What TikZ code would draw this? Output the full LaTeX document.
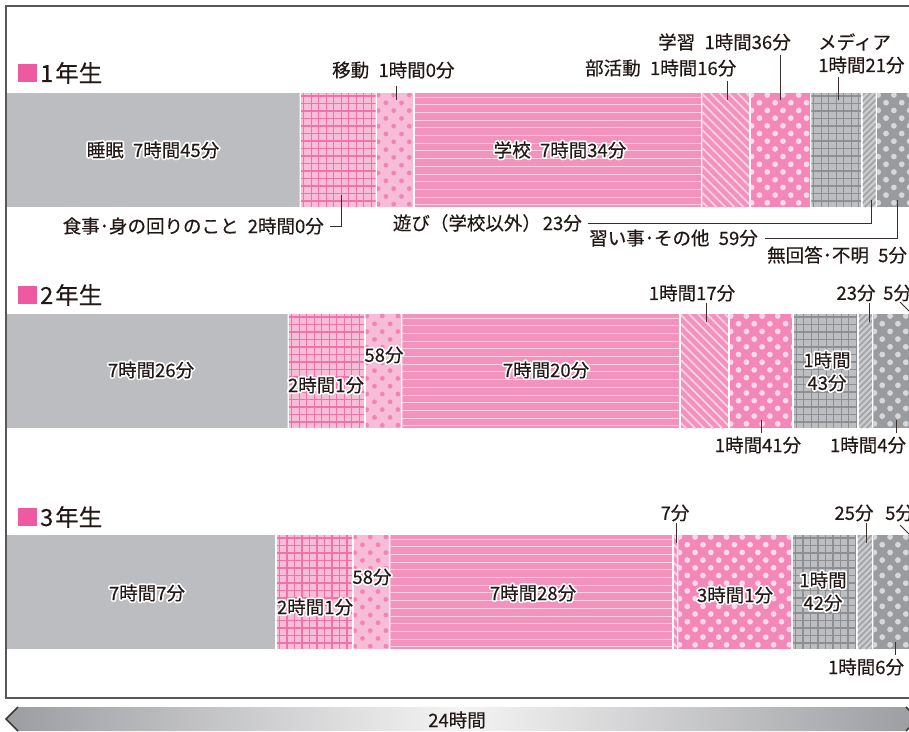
\documentclass[tikz,border=0pt]{standalone}
\usepackage{fontspec}
\setmainfont{Noto Sans CJK JP}[FakeBold=0.35]
\usetikzlibrary{calc}
\definecolor{cText}{HTML}{231815}
\definecolor{cFrame}{HTML}{595757}
\definecolor{cSleep}{HTML}{BCBDC0}
\definecolor{cPinkL}{HTML}{F7BDD6}
\definecolor{cPinkG}{HTML}{F172AB}
\definecolor{cMoveDot}{HTML}{F184B6}
\definecolor{cSchool}{HTML}{F292BD}
\definecolor{cSchoolLn}{HTML}{FAD0E2}
\definecolor{cStudy}{HTML}{F287B8}
\definecolor{cStudyDot}{HTML}{FCD8E8}
\definecolor{cMedia}{HTML}{BDBEC1}
\definecolor{cMediaLn}{HTML}{8E8F93}
\definecolor{cPlay}{HTML}{CBCCCE}
\definecolor{cPlayLn}{HTML}{A3A4A7}
\definecolor{cLesson}{HTML}{9A9B9E}
\definecolor{cLessonDot}{HTML}{D6D7D9}
\definecolor{cTitle}{HTML}{EE5A9F}
\definecolor{cArrD}{HTML}{9C9DA1}
\definecolor{cArrL}{HTML}{F4F4F4}
\definecolor{cChev}{HTML}{3E3A39}

\tikzset{
 lbl/.style={font=\fontsize{18.5}{22}\selectfont, text=cText, inner sep=0pt},
 ttl/.style={font=\fontsize{23.5}{27}\selectfont, text=cText, inner sep=0pt, anchor=west},
 ldr/.style={draw=cText!90, line width=0.9pt},
}
\newcommand\jgap{\hspace{0.5em}}

% ---------- pattern helpers (use \xa,\xb,\ya,\yb) ----------
\newcommand\gridfill[3]{% line colour, spacing, width
  \foreach \i in {0,...,14}{\draw[#1,line width=#3] (\xa+2.5+\i*#2,\ya) -- ++(0,114);}
  \foreach \j in {0,...,16}{\draw[#1,line width=#3] (\xa,\ya+3+\j*#2) -- ++(130,0);}}
\newcommand\dotsfill[4]{% colour, radius, dx, dy
  \foreach \j in {0,...,16}{%
    \pgfmathsetmacro\yy{\ya+2+\j*#4}%
    \pgfmathsetmacro\xo{\xa+1+mod(\j,2)*#3}%
    \foreach \i in {0,...,9}{\fill[#1] (\xo+\i*2*#3,\yy) circle[radius=#2];}}}
\newcommand\bsfill[3]{% "\" stripes: colour, width, period
  \foreach \i in {0,...,24}{\draw[#1,line width=#2] (\xa-118+\i*#3,\ya) -- ++(116,116);}}
\newcommand\fsfill[3]{% "/" stripes
  \foreach \i in {0,...,26}{\draw[#1,line width=#2] (\xa-118+\i*#3,\yb) -- ++(116,-116);}}

\newcommand\patSleep{\fill[cSleep] (\xa,\ya) rectangle (\xb,\yb);}
\newcommand\patFood{\fill[cPinkL] (\xa,\ya) rectangle (\xb,\yb);\gridfill{cPinkG}{7.5}{1.2pt}}
\newcommand\patMove{\fill[cPinkL] (\xa,\ya) rectangle (\xb,\yb);\dotsfill{cMoveDot}{2.4}{7.8}{7.8}}
\newcommand\patSchool{\fill[cSchool] (\xa,\ya) rectangle (\xb,\yb);
  \foreach \j in {0,...,15}{\draw[cSchoolLn,line width=0.9pt] (\xa,\ya+4+\j*7.7) -- ++(300,0);}}
\newcommand\patClub{\fill[cSchool] (\xa,\ya) rectangle (\xb,\yb);\bsfill{cSchoolLn}{1.8pt}{9}}
\newcommand\patStudy{\fill[cStudy] (\xa,\ya) rectangle (\xb,\yb);\dotsfill{cStudyDot}{2.9}{7.85}{7.7}}
\newcommand\patMedia{\fill[cMedia] (\xa,\ya) rectangle (\xb,\yb);\gridfill{cMediaLn}{7.5}{1.2pt}}
\newcommand\patPlay{\fill[cPlay] (\xa,\ya) rectangle (\xb,\yb);\fsfill{cPlayLn}{1.8pt}{6}}
\newcommand\patLesson{\fill[cLesson] (\xa,\ya) rectangle (\xb,\yb);\dotsfill{cLessonDot}{2.9}{7.85}{7.7}}
\newcommand\patNoAns{\fill[cMedia] (\xa,\ya) rectangle (\xb,\yb);}

\newcommand\SegM[4]{% start min, end min, row top, pattern
  \begin{scope}
  \pgfmathsetmacro\xa{ifthenelse(#1==0,6,6+0.633*#1+0.8)}
  \pgfmathsetmacro\xb{6+0.633*#2-0.8}
  \pgfmathsetmacro\ya{#3}
  \pgfmathsetmacro\yb{#3+114}
  \clip (\xa,\ya) rectangle (\xb,\yb);
  \csname pat#4\endcsname
  \end{scope}}

\newcommand\HL[3]{% name, position, text (white halo)
  \foreach \a in {0,30,...,330}{\node[lbl,text=white] at ([shift={(\a:1.7)}]#2) {#3};}
  \node[lbl] (#1) at (#2) {#3};}

\begin{document}
\begin{tikzpicture}[x=1pt,y=-1pt]
\useasboundingbox (0,0) rectangle (909,731);
\clip (0,0) rectangle (909,731);
\fill[white] (0,0) rectangle (909,731);

% ---------------- bars ----------------
\foreach \s/\e/\p in {0/465/Sleep,465/585/Food,585/645/Move,645/1099/School,1099/1175/Club,
  1175/1271/Study,1271/1352/Media,1352/1375/Play,1375/1434/Lesson,1434/1440/NoAns}
  {\SegM{\s}{\e}{93}{\p}}
\foreach \s/\e/\p in {0/446/Sleep,446/567/Food,567/625/Move,625/1065/School,1065/1142/Club,
  1142/1243/Study,1243/1346/Media,1346/1369/Play,1369/1433/Lesson,1433/1440/NoAns}
  {\SegM{\s}{\e}{314}{\p}}
\foreach \s/\e/\p in {0/427/Sleep,427/548/Food,548/606/Move,606/1054/School,1054/1061/Club,
  1061/1242/Study,1242/1344/Media,1344/1369/Play,1369/1435/Lesson,1435/1440/NoAns}
  {\SegM{\s}{\e}{535}{\p}}

% frame
\draw[cFrame,line width=1.1pt] (6,6) rectangle (940,698);

% ---------------- titles ----------------
\fill[cTitle] (18,64) rectangle (37,82);
\node[ttl] (t1) at (40,73) {1\kern2pt 年生};
\fill[cTitle] (18,286) rectangle (37,304);
\node[ttl] (t2) at (40,295) {2\kern2pt 年生};
\fill[cTitle] (18,508) rectangle (37,526);
\node[ttl] (t3) at (40,517) {3\kern2pt 年生};

% ---------------- row 1 labels ----------------
\HL{sleep1}{153,150}{睡眠\jgap 7時間45分}
\HL{school1}{560,150}{学校\jgap 7時間34分}

\node[lbl,anchor=west] (move1) at (332,70) {移動\jgap 1時間0分};
\coordinate (m1a) at (396,86); \coordinate (m1b) at (396,100);
\draw[ldr] (m1a) -- (m1b);

\node[lbl,anchor=west] (club1) at (585,68) {部活動\jgap 1時間16分};
\coordinate (c1a) at (727,81); \coordinate (c1b) at (727,100);
\draw[ldr] (c1a) -- (c1b);

\node[lbl,anchor=west] (study1) at (658,42) {学習\jgap 1時間36分};
\coordinate (s1a) at (780,55); \coordinate (s1b) at (780,100);
\draw[ldr] (s1a) -- (s1b);

\node[lbl,anchor=west] (media1a) at (818,42) {メディア};
\node[lbl,anchor=west] (media1b) at (818,65) {1時間21分};
\coordinate (d1a) at (838,77); \coordinate (d1b) at (838,100);
\draw[ldr] (d1a) -- (d1b);

\node[lbl,anchor=east] (food1) at (324,226) {食事･身の回りのこと\jgap 2時間0分};
\coordinate (f1a) at (330,226); \coordinate (f1b) at (341,226); \coordinate (f1c) at (341,195);
\draw[ldr] (f1a) -- (f1b) -- (f1c);

\node[lbl,anchor=east] (play1) at (582,223) {遊び（学校以外）\hspace{0.1em}23分};
\coordinate (p1a) at (588,223); \coordinate (p1b) at (871,223); \coordinate (p1c) at (871,200);
\draw[ldr] (p1a) -- (p1b) -- (p1c);

\node[lbl,anchor=east] (lesson1) at (758,238) {習い事･その他\jgap 59分};
\coordinate (l1a) at (765,238); \coordinate (l1b) at (897,238); \coordinate (l1c) at (897,200);
\draw[ldr] (l1a) -- (l1b) -- (l1c);

\node[lbl,anchor=west] (noans1) at (767,255) {無回答･不明\jgap 5分};

% ---------------- row 2 labels ----------------
\HL{sleep2}{151,370}{7時間26分}
\HL{food2}{326,385}{2時間1分}
\HL{move2}{384,355}{58分}
\HL{school2}{546,370}{7時間20分}
\HL{media2a}{827,360}{1時間}
\HL{media2b}{827,383}{43分}

\node[lbl] (club2) at (692,293) {1時間17分};
\coordinate (c2a) at (706,303); \coordinate (c2b) at (706,322);
\draw[ldr] (c2a) -- (c2b);

\node[lbl] (study2) at (758,445) {1時間41分};
\coordinate (s2a) at (761,420); \coordinate (s2b) at (761,433);
\draw[ldr] (s2a) -- (s2b);

\node[lbl] (play2) at (856,293) {23分};
\coordinate (p2a) at (869,303); \coordinate (p2b) at (869,322);
\draw[ldr] (p2a) -- (p2b);

\node[lbl,anchor=west] (noans2) at (883,293) {5分};
\coordinate (n2a) at (900,302); \coordinate (n2b) at (916,318);
\draw[ldr] (n2a) -- (n2b);

\node[lbl] (lesson2) at (868,445) {1時間4分};
\coordinate (e2a) at (896,420); \coordinate (e2b) at (896,433);
\draw[ldr] (e2a) -- (e2b);

% ---------------- row 3 labels ----------------
\HL{sleep3}{147,593}{7時間7分}
\HL{food3}{315,607}{2時間1分}
\HL{move3}{372,577}{58分}
\HL{school3}{533,593}{7時間28分}
\HL{study3}{735,595}{3時間1分}
\HL{media3a}{823,580}{1時間}
\HL{media3b}{823,603}{42分}

\node[lbl] (club3) at (675,513) {7分};
\coordinate (c3a) at (676,523); \coordinate (c3b) at (676,543);
\draw[ldr] (c3a) -- (c3b);

\node[lbl] (play3) at (854,513) {25分};
\coordinate (p3a) at (866,523); \coordinate (p3b) at (866,543);
\draw[ldr] (p3a) -- (p3b);

\node[lbl,anchor=west] (noans3) at (885,513) {5分};
\coordinate (n3a) at (900,525); \coordinate (n3b) at (916,541);
\draw[ldr] (n3a) -- (n3b);

\node[lbl] (lesson3) at (866,667) {1時間6分};
\coordinate (e3a) at (895,642); \coordinate (e3b) at (895,655);
\draw[ldr] (e3a) -- (e3b);

% ---------------- 24h arrow ----------------
\shade[left color=cArrD, right color=cArrD, middle color=cArrL]
  (18,707) -- (906,707) -- (918,719) -- (906,731) -- (18,731) -- (6,719) -- cycle;
\draw[cChev,line width=1.5pt] (18,707) -- (6,719) -- (18,731);
\draw[cChev,line width=1.5pt] (906,707) -- (918,719) -- (906,731);
\node[lbl] (day) at (457,720) {24時間};
\end{tikzpicture}
\end{document}
